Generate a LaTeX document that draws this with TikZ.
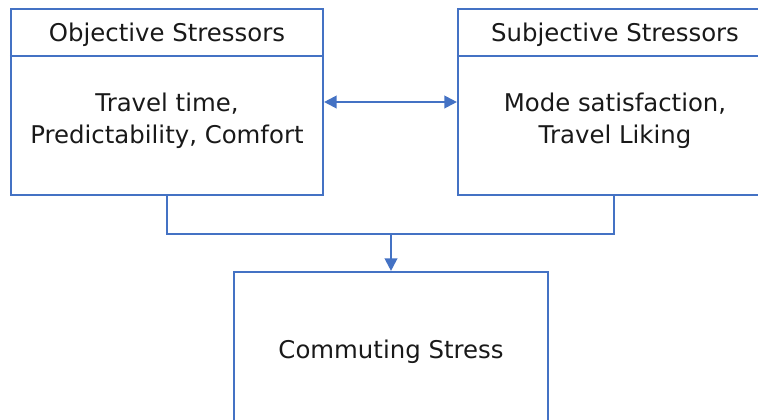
\documentclass[tikz,border=0pt]{standalone}
\usepackage{fontspec}
\setmainfont{DejaVu Sans}
\usetikzlibrary{arrows.meta}
\definecolor{edgeblue}{HTML}{4472C4}
\begin{document}
\begin{tikzpicture}[x=0.75pt,y=-0.75pt,
  box/.style={draw=edgeblue,line width=1.6pt,minimum width=#1,inner sep=0pt},
  label/.style={font=\fontsize{18.3}{24}\selectfont,text=black!90,align=center,inner sep=0pt},
  link/.style={draw=edgeblue,line width=1.6pt},
  tip/.style={-{Triangle[length=9.5pt,width=9.5pt]}},
  twotip/.style={{Triangle[length=9.5pt,width=9.5pt]}-{Triangle[length=9.5pt,width=9.5pt]}}]
\useasboundingbox (0,0) rectangle (758,419);
\clip (0,0) rectangle (758,419);
% stressor boxes
\node[box=234pt,minimum height=139.5pt] (obj) at (167,102) {};
\node[box=234pt,minimum height=139.5pt] (subj) at (614,102) {};
\draw[link] (obj.west |- 0,56) -- (obj.east |- 0,56);
\draw[link] (subj.west |- 0,56) -- (subj.east |- 0,56);
\node[label] (objh) at (167,35) {Objective Stressors};
\node[label] (subjh) at (615,35) {Subjective Stressors};
\node[label] (objb) at (167,121) {Travel time,\\Predictability, Comfort};
\node[label] (subjb) at (615,121) {Mode satisfaction,\\Travel Liking};
% outcome box
\node[box=235.5pt,minimum height=139.5pt] (stress) at (391,365) {};
\node[label] (stressl) at (391,352) {Commuting Stress};
% connectors
\coordinate (j) at (391,234);
\draw[link,twotip] (obj) -- (subj);
\draw[link] (obj.south) |- (j) -| (subj.south);
\draw[link,tip] (j) -- (stress.north);
\end{tikzpicture}
\end{document}
